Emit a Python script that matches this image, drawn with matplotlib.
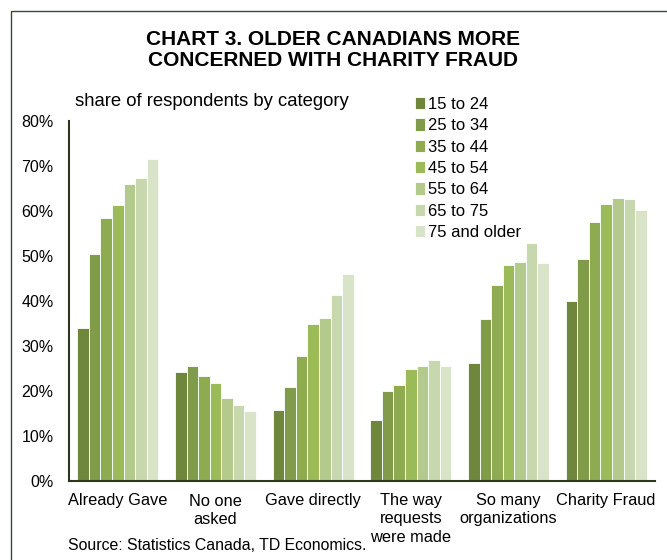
import matplotlib
matplotlib.use("Agg")
import matplotlib.pyplot as plt
from matplotlib.patches import Rectangle
from matplotlib.ticker import PercentFormatter
import numpy as np

categories = ["Already Gave", "No one\nasked", "Gave directly",
              "The way\nrequests\nwere made", "So many\norganizations", "Charity Fraud"]
age_groups = ["15 to 24", "25 to 34", "35 to 44", "45 to 54",
              "55 to 64", "65 to 75", "75 and older"]
# share of respondents (%), one list per age group, in category order
age_15_24 = [34.0, 24.2, 15.7, 13.6, 26.3, 40.0]
age_25_34 = [50.4, 25.5, 20.9, 20.1, 35.9, 49.4]
age_35_44 = [58.4, 23.3, 27.8, 21.4, 43.6, 57.6]
age_45_54 = [61.3, 21.7, 35.0, 24.9, 48.1, 61.6]
age_55_64 = [66.0, 18.4, 36.3, 25.6, 48.7, 62.9]
age_65_75 = [67.3, 16.8, 41.3, 27.0, 52.9, 62.6]
age_75_up = [71.5, 15.6, 45.9, 25.5, 48.4, 60.2]
series = [age_15_24, age_25_34, age_35_44, age_45_54, age_55_64, age_65_75, age_75_up]
colors = ["#6f873d", "#809b4a", "#8fab52", "#9bbb59", "#b3ca8c", "#c7d7ae", "#d9e3c7"]

plt.rcParams["font.family"] = ["Liberation Sans", "DejaVu Sans"]

fig = plt.figure(figsize=(6.67, 5.6), dpi=100)
ax = fig.add_axes([69 / 667, 1 - 481 / 560, 586 / 667, 360 / 560])

# frame around the chart
fig.add_artist(Rectangle((11 / 667, -0.05), 1.2, 1 - 11 / 560 + 0.05,
                         transform=fig.transFigure, fill=False,
                         edgecolor="#3b4a2a", linewidth=1.0))

x = np.arange(len(categories))
n = len(series)
bw = 0.83 / n
for i, (vals, col, lab) in enumerate(zip(series, colors, age_groups)):
    ax.bar(x + (i - (n - 1) / 2) * bw, vals, bw, color=col, label=lab,
           edgecolor="white", linewidth=0.6)

ax.set_xlim(-0.5, len(categories) - 0.5)
ax.set_ylim(0, 80)
ax.set_yticks(range(0, 81, 10))
ax.yaxis.set_major_formatter(PercentFormatter(decimals=0))
ax.set_xticks(x)
ax.set_xticklabels(categories, fontsize=11.8, linespacing=1.25)
ax.tick_params(axis="y", labelsize=11.5, length=0, pad=11)
ax.tick_params(axis="x", length=0, pad=9)
for s in ["top", "right"]:
    ax.spines[s].set_visible(False)
for s in ["left", "bottom"]:
    ax.spines[s].set_color("#2e3520")
    ax.spines[s].set_linewidth(1.5)

fig.text(333 / 667, 1 - 50 / 560, "CHART 3. OLDER CANADIANS MORE\nCONCERNED WITH CHARITY FRAUD",
         ha="center", va="center", fontsize=15, fontweight="bold",
         linespacing=1.15)
fig.text(75 / 667, 1 - 102 / 560, "share of respondents by category",
         ha="left", va="center", fontsize=13.3)
fig.text(68 / 667, 1 - 545 / 560, "Source: Statistics Canada, TD Economics.",
         ha="left", va="center", fontsize=11.4)

ax.legend(loc="upper left", bbox_to_anchor=(415 / 667, 1 - 97 / 560),
          bbox_transform=fig.transFigure, frameon=False, fontsize=12,
          handlelength=0.6, handleheight=0.75, handletextpad=0.2,
          labelspacing=0.38, borderpad=0, borderaxespad=0)

fig.savefig("out.png", dpi=100)
